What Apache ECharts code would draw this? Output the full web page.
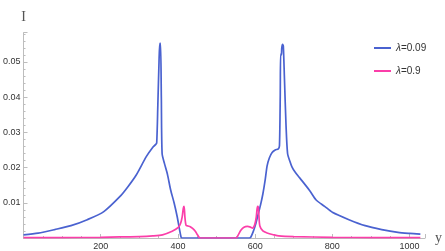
<!DOCTYPE html>
<html><head><meta charset="utf-8">
<script src="https://cdn.jsdelivr.net/npm/echarts@6/dist/echarts.min.js"></script>
<style>html,body{margin:0;padding:0;background:#fff}#c{width:445px;height:251px}</style>
</head><body><div id="c"></div>
<script>
// Blue series λ=0.09 : [y, I]
const blueX = [0,38,81,123,165,208,250,270,292,318,335,342,345,348,351,353,355,357,359,365,373,381,390,398,404,408,411,500,585,589,595,601,608,614,620,626,631,637,644,652,660,663,665,666,668,669,671,673,676,680,684,690,695,703,716,741,758,780,800,843,885,928,970,1000,1028];
const blueY = [0.0009,0.0014,0.0024,0.0035,0.0052,0.0075,0.0118,0.0145,0.0179,0.0231,0.0258,0.0265,0.0270,0.0380,0.0500,0.0553,0.0553,0.0400,0.0240,0.0212,0.0180,0.0137,0.0100,0.0061,0.0025,0.0003,0,0,0,0.0003,0.0018,0.0038,0.0068,0.0094,0.0125,0.0165,0.0205,0.0228,0.0243,0.0250,0.0253,0.0262,0.0400,0.0522,0.0520,0.0540,0.0550,0.0545,0.0450,0.0320,0.0240,0.0218,0.0203,0.0188,0.0170,0.0135,0.0108,0.0090,0.0073,0.0052,0.0035,0.0024,0.0016,0.0013,0.0011];
// Pink series λ=0.9
const pinkX = [0,100,200,250,300,335,360,385,401,407,411,414,416,418,421,426,432,438,445,450,453,457,500,551,556,563,570,580,588,593,599,603,606,608,610,612,620,631,648,661,700,800,900,1028];
const pinkY = [0.0001,0.0001,0.0002,0.0003,0.0004,0.0006,0.0009,0.0019,0.0030,0.0042,0.0060,0.0085,0.0090,0.0060,0.0036,0.0034,0.0032,0.0027,0.0019,0.0010,0.0005,0,0,0,0.0008,0.0022,0.0030,0.0033,0.0031,0.0028,0.0038,0.0060,0.0090,0.0088,0.0060,0.0035,0.0020,0.0014,0.0009,0.0006,0.0004,0.0002,0.0001,0.0001];
const seriesNames = ['λ=0.09','λ=0.9'];
const xTicks = [200,400,600,800,1000];
const yTicks = [0.01,0.02,0.03,0.04,0.05];

const zip = (a,b)=>a.map((v,i)=>[v,b[i]]);
const axisGray = '#bdbdbd';
const labelStyle = {color:'#333', fontSize:9, fontFamily:'Liberation Sans'};
const chart = echarts.init(document.getElementById('c'), null, {renderer:'canvas'});
chart.setOption({
  animation:false,
  grid:{left:18.3, right:17.5, top:32.7, bottom:12.7, containLabel:false},
  legend:{
    orient:'vertical', left:369, top:38, itemWidth:17, itemHeight:2, itemGap:13,
    icon:'rect',
    data:seriesNames,
    formatter: n => '{i|λ}' + n.slice(1),
    textStyle:{color:'#333', fontSize:10, fontFamily:'Liberation Sans',
      rich:{i:{fontStyle:'italic', fontSize:10, fontFamily:'Liberation Sans', color:'#333'}}}
  },
  xAxis:{
    type:'value', min:0, max:1040, interval:200,
    name:'y', nameLocation:'end', nameGap:10,
    nameTextStyle:{fontFamily:'Liberation Serif', fontSize:14, color:'#555', verticalAlign:'middle', padding:[0,0,-3,0]},
    axisLine:{show:true, lineStyle:{color:axisGray, width:1}},
    axisTick:{show:true, inside:true, length:4, lineStyle:{color:axisGray}},
    minorTick:{show:true, splitNumber:4, length:2, lineStyle:{color:axisGray}},
    splitLine:{show:false},
    axisLabel:{...labelStyle, margin:4, showMaxLabel:false,
      formatter: v => xTicks.includes(v) ? String(v) : ''}
  },
  yAxis:{
    type:'value', min:0, max:0.0583, interval:0.01,
    name:'I', nameLocation:'end', nameGap:8,
    nameTextStyle:{fontFamily:'Liberation Serif', fontSize:14, color:'#555', align:'center'},
    axisLine:{show:true, lineStyle:{color:axisGray, width:1}},
    axisTick:{show:true, inside:true, length:4, lineStyle:{color:axisGray}},
    minorTick:{show:true, splitNumber:5, length:2, lineStyle:{color:axisGray}},
    splitLine:{show:false},
    axisLabel:{...labelStyle, margin:3, showMaxLabel:false,
      formatter: v => { const f = yTicks.find(t=>Math.abs(t-v)<1e-9); return f ? f.toFixed(2) : ''; }}
  },
  series:[
    {name:seriesNames[0], type:'line', data:zip(blueX,blueY), showSymbol:false, symbol:'none',
     smooth:0.25,
     lineStyle:{color:'#4a62d0', width:1.7}, itemStyle:{color:'#4a62d0'}, z:2},
    {name:seriesNames[1], type:'line', data:zip(pinkX,pinkY), showSymbol:false, symbol:'none',
     smooth:0.25,
     lineStyle:{color:'#fb3ea9', width:1.7}, itemStyle:{color:'#fb3ea9'}, z:3}
  ]
});
</script></body></html>
